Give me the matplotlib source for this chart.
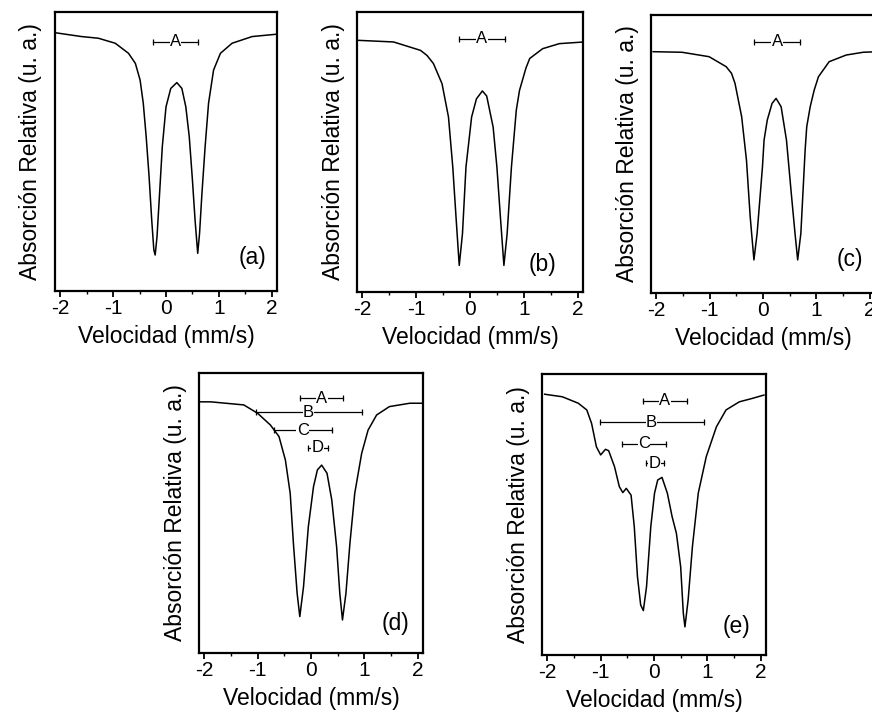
"""Mossbauer spectra, five panels (a)-(e), redrawn from the scanned figure."""

import matplotlib
matplotlib.use("Agg")
import matplotlib.pyplot as plt

plt.rcParams['font.family'] = ['Liberation Sans', 'DejaVu Sans']

# ---- data (relative absorption, 0 = bottom of frame, 1 = top)
vel_a = [-2.07, -1.6, -1.28, -0.96, -0.71, -0.58, -0.49, -0.43, -0.375, -0.32, -0.27,
         -0.23, -0.205, -0.17, -0.125, -0.07, 0.0, 0.09, 0.205, 0.30, 0.375, 0.44,
         0.50, 0.55, 0.60, 0.635, 0.68, 0.74, 0.805, 0.90, 1.03, 1.25, 1.63, 2.07]
abs_a = [0.925, 0.912, 0.906, 0.888, 0.852, 0.816, 0.756, 0.673, 0.553, 0.410, 0.254,
         0.147, 0.129, 0.195, 0.338, 0.517, 0.660, 0.726, 0.747, 0.726, 0.660, 0.553,
         0.398, 0.254, 0.135, 0.207, 0.350, 0.517, 0.673, 0.792, 0.852, 0.888, 0.912,
         0.920]

vel_b = [-2.1, -1.42, -0.92, -0.80, -0.68, -0.52, -0.40, -0.32, -0.26, -0.20, -0.14,
         -0.075, 0.03, 0.12, 0.23, 0.31, 0.43, 0.50, 0.565, 0.63, 0.69, 0.77, 0.86,
         0.92, 1.04, 1.11, 1.35, 1.66, 2.12]
abs_b = [0.899, 0.893, 0.863, 0.845, 0.816, 0.744, 0.625, 0.446, 0.268, 0.095, 0.208,
         0.446, 0.625, 0.690, 0.718, 0.700, 0.589, 0.446, 0.268, 0.095, 0.208, 0.446,
         0.649, 0.720, 0.800, 0.834, 0.869, 0.887, 0.893]

vel_c = [-2.06, -1.52, -1.01, -0.69, -0.59, -0.525, -0.40, -0.31, -0.24, -0.17, -0.11,
         -0.01, 0.02, 0.08, 0.17, 0.245, 0.34, 0.44, 0.53, 0.60, 0.65, 0.71, 0.79,
         0.82, 0.885, 0.96, 1.04, 1.24, 1.56, 1.88, 2.17]
abs_c = [0.868, 0.866, 0.850, 0.814, 0.790, 0.754, 0.634, 0.478, 0.274, 0.119, 0.215,
         0.454, 0.550, 0.622, 0.682, 0.700, 0.670, 0.550, 0.359, 0.215, 0.119, 0.215,
         0.514, 0.598, 0.670, 0.730, 0.778, 0.832, 0.856, 0.866, 0.868]

vel_d = [-2.07, -1.88, -1.26, -1.0, -0.76, -0.60, -0.48, -0.39, -0.33, -0.26, -0.21,
         -0.14, -0.05, 0.047, 0.12, 0.20, 0.30, 0.39, 0.48, 0.54, 0.59, 0.655, 0.73,
         0.82, 0.95, 1.07, 1.23, 1.47, 1.85, 2.08]
abs_d = [0.897, 0.897, 0.886, 0.856, 0.814, 0.773, 0.689, 0.570, 0.392, 0.213, 0.130,
         0.237, 0.451, 0.594, 0.654, 0.671, 0.642, 0.546, 0.380, 0.213, 0.118, 0.213,
         0.392, 0.570, 0.713, 0.796, 0.850, 0.880, 0.892, 0.892]

vel_e = [-2.05, -1.72, -1.42, -1.26, -1.17, -1.08, -1.0, -0.91, -0.85, -0.74, -0.65,
         -0.585, -0.52, -0.43, -0.37, -0.31, -0.25, -0.20, -0.14, -0.06, 0.01, 0.07,
         0.15, 0.25, 0.34, 0.42, 0.50, 0.55, 0.58, 0.64, 0.72, 0.83, 0.98, 1.17, 1.35,
         1.60, 1.84, 2.06]
abs_e = [0.928, 0.919, 0.896, 0.872, 0.824, 0.741, 0.712, 0.732, 0.727, 0.670, 0.599,
         0.578, 0.593, 0.569, 0.457, 0.279, 0.178, 0.158, 0.243, 0.457, 0.576, 0.623,
         0.632, 0.576, 0.492, 0.433, 0.314, 0.148, 0.100, 0.196, 0.385, 0.576, 0.706,
         0.812, 0.872, 0.901, 0.913, 0.925]

# site ranges drawn as labelled bars
bar_labels_abc = ["A"]
bar_lo_a, bar_hi_a, bar_y_a = [-0.24], [0.60], [0.894]
bar_lo_b, bar_hi_b, bar_y_b = [-0.20], [0.646], [0.905]
bar_lo_c, bar_hi_c, bar_y_c = [-0.16], [0.69], [0.904]

bar_labels_de = ["A", "B", "C", "D"]
bar_lo_d = [-0.20, -1.04, -0.70, -0.06]
bar_hi_d = [0.60, 0.95, 0.39, 0.31]
bar_y_d = [0.910, 0.860, 0.795, 0.733]

bar_lo_e = [-0.20, -1.02, -0.60, -0.155]
bar_hi_e = [0.61, 0.93, 0.23, 0.18]
bar_y_e = [0.905, 0.828, 0.751, 0.682]

panel_tags = ["(a)", "(b)", "(c)", "(d)", "(e)"]
x_ticks = [-2, -1, 0, 1, 2]
x_label = "Velocidad (mm/s)"
y_label = "Absorción Relativa (u. a.)"


def style_axis(ax, tag, tag_xy):
    ax.set_xlim(-2.1, 2.1)
    ax.set_ylim(0, 1)
    ax.set_xticks(x_ticks)
    ax.set_xticks([-1.5, -0.5, 0.5, 1.5], minor=True)
    ax.set_xticklabels([str(t) for t in x_ticks])
    ax.set_yticks([])
    ax.tick_params(axis='x', which='major', length=4, width=1.3, labelsize=15, pad=2)
    ax.tick_params(axis='x', which='minor', length=2, width=1.0)
    for sp in ax.spines.values():
        sp.set_linewidth(1.6)
    ax.set_xlabel(x_label, fontsize=16.5, labelpad=5)
    ax.set_ylabel(y_label, fontsize=16.5, labelpad=9)
    ax.text(tag_xy[0], tag_xy[1], tag, transform=ax.transAxes, fontsize=16.5,
            ha='center', va='center')


def draw_bars(ax, labels, lo, hi, ys):
    for lab, a, b, y in zip(labels, lo, hi, ys):
        ax.plot([a, b], [y, y], color='black', lw=0.9)
        ax.plot([a, b], [y, y], ls='none', marker='|', ms=4, mew=0.9, color='black')
        ax.text((a + b) / 2, y, lab, fontsize=12, ha='center', va='center',
                bbox=dict(facecolor='white', edgecolor='none', pad=0.2))


fig = plt.figure(figsize=(8.72, 7.16), dpi=100)
W, H = 872.0, 716.0


def add_panel(left, right, top, bottom):
    return fig.add_axes([left / W, 1 - bottom / H, (right - left) / W, (bottom - top) / H])


ax_a = add_panel(55, 277, 12, 291)
ax_b = add_panel(357, 583, 12, 292)
ax_c = add_panel(651, 875, 15, 293)
ax_d = add_panel(199, 423, 373, 653)
ax_e = add_panel(542, 766, 374, 655)

ax_a.plot(vel_a, abs_a, color='black', lw=1.1)
ax_b.plot(vel_b, abs_b, color='black', lw=1.1)
ax_c.plot(vel_c, abs_c, color='black', lw=1.1)
ax_d.plot(vel_d, abs_d, color='black', lw=1.1)
ax_e.plot(vel_e, abs_e, color='black', lw=1.1)

draw_bars(ax_a, bar_labels_abc, bar_lo_a, bar_hi_a, bar_y_a)
draw_bars(ax_b, bar_labels_abc, bar_lo_b, bar_hi_b, bar_y_b)
draw_bars(ax_c, bar_labels_abc, bar_lo_c, bar_hi_c, bar_y_c)
draw_bars(ax_d, bar_labels_de, bar_lo_d, bar_hi_d, bar_y_d)
draw_bars(ax_e, bar_labels_de, bar_lo_e, bar_hi_e, bar_y_e)

style_axis(ax_a, panel_tags[0], (0.89, 0.12))
style_axis(ax_b, panel_tags[1], (0.82, 0.10))
style_axis(ax_c, panel_tags[2], (0.89, 0.12))
style_axis(ax_d, panel_tags[3], (0.875, 0.107))
style_axis(ax_e, panel_tags[4], (0.87, 0.10))

fig.savefig("out.png", dpi=100)
